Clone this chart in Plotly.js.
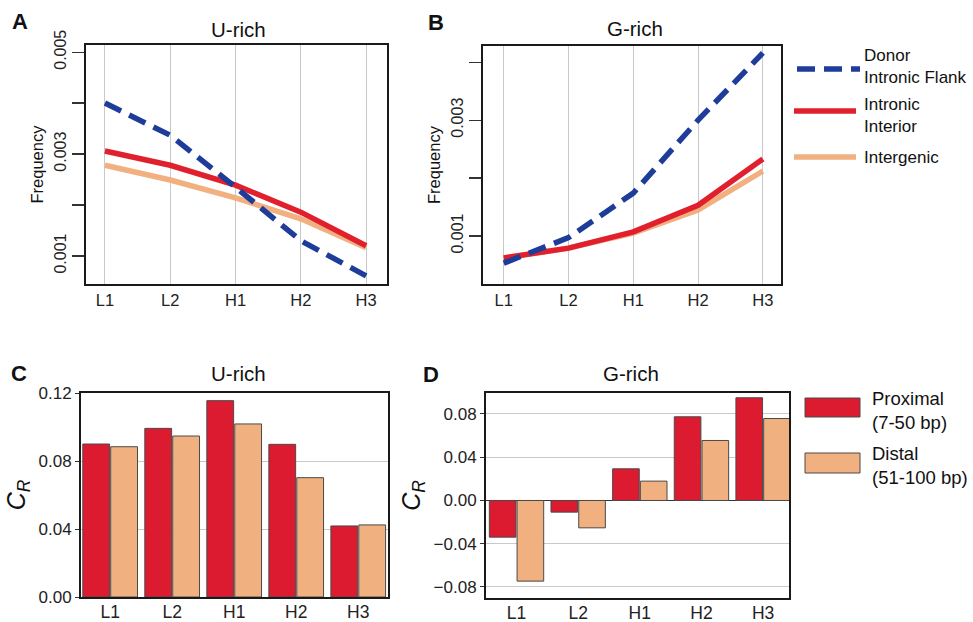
<!DOCTYPE html>
<html>
<head>
<meta charset="utf-8">
<script src="https://cdn.plot.ly/plotly-3.0.1.min.js"></script>
<style>html,body{margin:0;padding:0;background:#fff;}#chart{width:973px;height:622px;}</style>
</head>
<body>
<div id="chart"></div>
<script>
// ---- data ----
const categories = ['L1', 'L2', 'H1', 'H2', 'H3'];

const seriesNames = ['Donor Intronic Flank', 'Intronic Interior', 'Intergenic'];
const legendLabels = ['Donor<br>Intronic Flank', 'Intronic<br>Interior', 'Intergenic'];

// Panel A: U-rich frequency
const uDonor      = [0.00400, 0.00337, 0.00235, 0.00130, 0.00061];
const uInterior   = [0.00306, 0.00278, 0.00239, 0.00186, 0.00120];
const uIntergenic = [0.00278, 0.00249, 0.00214, 0.00173, 0.00116];

// Panel B: G-rich frequency
const gDonor      = [0.00053, 0.00097, 0.00174, 0.00300, 0.00416];
const gInterior   = [0.00062, 0.00079, 0.00107, 0.00153, 0.00233];
const gIntergenic = [0.00062, 0.00079, 0.00105, 0.00145, 0.00212];

// Panel C/D: C_R
const barNames = ['Proximal (7-50 bp)', 'Distal (51-100 bp)'];
const barLegendLabels = ['Proximal<br>(7-50 bp)', 'Distal<br>(51-100 bp)'];
const uProximal = [0.0900, 0.0992, 0.1155, 0.0898, 0.0418];
const uDistal   = [0.0884, 0.0947, 0.1018, 0.0702, 0.0424];
const gProximal = [-0.0339, -0.0108, 0.0293, 0.0774, 0.0950];
const gDistal   = [-0.0746, -0.0253, 0.0179, 0.0555, 0.0758];

const freqLabelTicks = [0.001, 0.003, 0.005];
const freqMinorStep = 0.001;
const crTicksC = [0.00, 0.04, 0.08, 0.12];
const crTicksD = [-0.08, -0.04, 0.00, 0.04, 0.08];

// ---- styling ----
const W = 973, H = 622;
const px = v => v / W;
const py = v => 1 - v / H;
const FONT = '"Liberation Sans", Arial, Helvetica, sans-serif';
const C_BLUE = '#1e3c9a';
const C_RED = '#e0202c';
const C_ORANGE = '#f2b081';
const B_RED = '#dc1a30';
const B_ORANGE = '#f0b07f';
const DASH = '18px,9px';

function lineTrace(y, name, color, dash, xa, ya) {
  return {
    type: 'scatter', mode: 'lines', x: categories, y: y, name: name,
    xaxis: xa, yaxis: ya, showlegend: false,
    line: {color: color, width: 5.5, dash: dash}
  };
}
function barTrace(y, name, color, xa, ya) {
  return {
    type: 'bar', x: categories, y: y, name: name, xaxis: xa, yaxis: ya,
    showlegend: false,
    marker: {color: color, line: {color: '#4a4a4a', width: 1}}
  };
}

const traces = [
  lineTrace(uIntergenic, seriesNames[2], C_ORANGE, 'solid', 'x', 'y'),
  lineTrace(uInterior, seriesNames[1], C_RED, 'solid', 'x', 'y'),
  lineTrace(uDonor, seriesNames[0], C_BLUE, DASH, 'x', 'y'),
  lineTrace(gIntergenic, seriesNames[2], C_ORANGE, 'solid', 'x2', 'y2'),
  lineTrace(gInterior, seriesNames[1], C_RED, 'solid', 'x2', 'y2'),
  lineTrace(gDonor, seriesNames[0], C_BLUE, DASH, 'x2', 'y2'),
  barTrace(uProximal, barNames[0], B_RED, 'x3', 'y3'),
  barTrace(uDistal, barNames[1], B_ORANGE, 'x3', 'y3'),
  barTrace(gProximal, barNames[0], B_RED, 'x4', 'y4'),
  barTrace(gDistal, barNames[1], B_ORANGE, 'x4', 'y4')
];

const boxAxis = {
  showline: true, linecolor: '#1a1a1a', linewidth: 2, mirror: true,
  zeroline: false, fixedrange: true
};

function lineX(domain, range) {
  return Object.assign({}, boxAxis, {
    domain: domain, type: 'category', range: range,
    showgrid: true, gridcolor: '#c9c9c9', gridwidth: 1,
    ticks: '', tickfont: {size: 16.5, color: '#222'}
  });
}
function lineY(domain, range) {
  return Object.assign({}, boxAxis, {
    domain: domain, range: range, showgrid: false,
    tickvals: freqLabelTicks, tickformat: '.3f', tickangle: -90,
    ticks: 'outside', ticklen: 12, tickwidth: 1.2, tickcolor: '#333',
    minor: {tick0: 0, dtick: freqMinorStep, ticks: 'outside', ticklen: 12,
            tickwidth: 1.2, tickcolor: '#333', showgrid: false},
    tickfont: {size: 16, color: '#222'},
    title: {text: 'Frequency', font: {size: 16.5, color: '#111'}, standoff: 4}
  });
}
function barX(domain, range) {
  return Object.assign({}, boxAxis, {
    domain: domain, type: 'category', range: range, showgrid: false,
    ticks: '', ticklabelstandoff: -2, tickfont: {size: 17.5, color: '#222'}
  });
}
function barY(domain, range, tv, zl) {
  return Object.assign({}, boxAxis, {
    domain: domain, range: range, tickvals: tv, tickformat: '.2f',
    showgrid: true, gridcolor: '#c9c9c9', gridwidth: 1,
    zeroline: zl, zerolinecolor: '#333', zerolinewidth: 1.5,
    ticks: 'outside', ticklen: 4, tickcolor: '#333',
    tickfont: {size: 17, color: '#222'},
    title: {text: '<i>C<sub>R</sub></i>', font: {size: 25, color: '#111'}, standoff: 6}
  });
}

const annotations = [];
function ann(text, x, y, size, opts) {
  annotations.push(Object.assign({
    text: text, xref: 'paper', yref: 'paper', x: px(x), y: py(y),
    xanchor: 'center', yanchor: 'middle', showarrow: false,
    font: {size: size, color: '#111', family: FONT}
  }, opts || {}));
}
// panel letters
ann('<b>A</b>', 20, 22, 22);
ann('<b>B</b>', 436, 23, 22);
ann('<b>C</b>', 19, 373, 22);
ann('<b>D</b>', 431, 374, 22);
// panel titles
ann('U-rich', 238, 30, 20.5);
ann('G-rich', 635, 29, 20.5);
ann('U-rich', 238, 373, 20.5);
ann('G-rich', 631, 373, 20.5);
// legend labels
ann(legendLabels[0], 862, 66, 17, {xanchor: 'left', align: 'left'});
ann(legendLabels[1], 862, 115, 17, {xanchor: 'left', align: 'left'});
ann(legendLabels[2], 862, 157, 17, {xanchor: 'left', align: 'left'});
ann(barLegendLabels[0], 870, 411, 18.5, {xanchor: 'left', align: 'left'});
ann(barLegendLabels[1], 870, 466, 18.5, {xanchor: 'left', align: 'left'});

const shapes = [
  {type: 'line', xref: 'paper', yref: 'paper', x0: px(797), x1: px(860), y0: py(69), y1: py(69),
   line: {color: C_BLUE, width: 5.5, dash: DASH}},
  {type: 'line', xref: 'paper', yref: 'paper', x0: px(794), x1: px(856), y0: py(111), y1: py(111),
   line: {color: C_RED, width: 5.5}},
  {type: 'line', xref: 'paper', yref: 'paper', x0: px(794), x1: px(856), y0: py(157), y1: py(157),
   line: {color: C_ORANGE, width: 5.5}},
  {type: 'rect', xref: 'paper', yref: 'paper', x0: px(805), x1: px(860), y0: py(417), y1: py(398),
   fillcolor: B_RED, line: {color: '#4a4a4a', width: 1}},
  {type: 'rect', xref: 'paper', yref: 'paper', x0: px(805), x1: px(860), y0: py(473), y1: py(453),
   fillcolor: B_ORANGE, line: {color: '#4a4a4a', width: 1}}
];

const layout = {
  width: W, height: H,
  margin: {l: 0, r: 0, t: 0, b: 0},
  paper_bgcolor: '#fff', plot_bgcolor: '#fff',
  font: {family: FONT, color: '#222'},
  showlegend: false,
  barmode: 'group', bargap: 0.1, bargroupgap: 0.04,
  xaxis:  lineX([px(86), px(387)], [-0.29, 4.32]),
  yaxis:  lineY([py(284), py(45)], [0.00045, 0.00514]),
  xaxis2: lineX([px(483), px(781)], [-0.32, 4.28]),
  yaxis2: lineY([py(284), py(46)], [0.00017, 0.00428]),
  xaxis3: barX([px(81), px(388)], [-0.47, 4.48]),
  yaxis3: barY([py(597), py(393)], [0, 0.12], crTicksC, false),
  xaxis4: barX([px(486), px(789)], [-0.495, 4.42]),
  yaxis4: barY([py(598), py(393)], [-0.0902, 0.0994], crTicksD, true),
  annotations: annotations,
  shapes: shapes
};
layout.yaxis.anchor = 'x';
layout.yaxis2.anchor = 'x2';
layout.yaxis3.anchor = 'x3';
layout.yaxis4.anchor = 'x4';
layout.xaxis.anchor = 'y';
layout.xaxis2.anchor = 'y2';
layout.xaxis3.anchor = 'y3';
layout.xaxis4.anchor = 'y4';

Plotly.newPlot('chart', traces, layout, {staticPlot: true, displayModeBar: false});
</script>
</body>
</html>
